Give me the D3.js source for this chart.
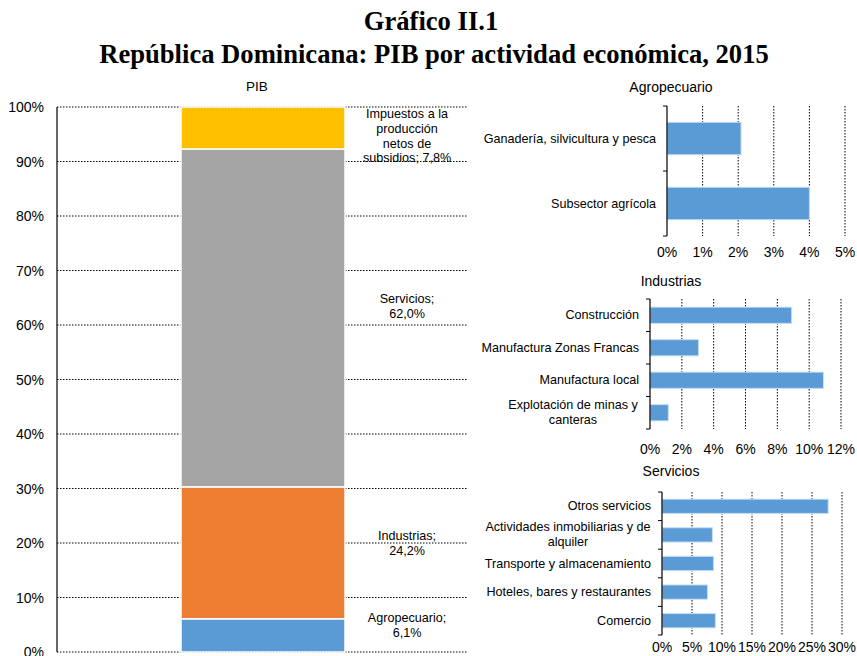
<!DOCTYPE html>
<html>
<head>
<meta charset="utf-8">
<script src="https://cdn.jsdelivr.net/npm/d3@7"></script>
<style>
  body { margin: 0; background: #fff; }
  text { font-family: "Liberation Sans", Arial, sans-serif; fill: #000; }
  .ttl { font-family: "Liberation Serif", "Times New Roman", serif; font-weight: bold; }
</style>
</head>
<body>
<script>
// PIB stack (share of GDP, %)
const pibSectors = ['Agropecuario', 'Industrias', 'Servicios', 'Impuestos a la producción netos de subsidios'];
const pibValues = [6.1, 24.2, 62.0, 7.8];
const pibLabels = [['Agropecuario;', '6,1%'], ['Industrias;', '24,2%'], ['Servicios;', '62,0%'],
                   ['Impuestos a la', 'producción', 'netos de', 'subsidios; 7,8%']];
const pibColors = ['#5b9bd5', '#ed7d31', '#a5a5a5', '#ffc000'];
const pibTicks = [0, 10, 20, 30, 40, 50, 60, 70, 80, 90, 100];

// sub-sector panels (top category first)
const agroCats = ['Ganadería, silvicultura y pesca', 'Subsector agrícola'];
const agroValues = [2.08, 4.0];
const agroTicks = [0, 1, 2, 3, 4, 5];

const indCats = ['Construcción', 'Manufactura Zonas Francas', 'Manufactura local', 'Explotación de minas y\ncanteras'];
const indValues = [8.9, 3.05, 10.9, 1.15];
const indTicks = [0, 2, 4, 6, 8, 10, 12];

const servCats = ['Otros servicios', 'Actividades inmobiliarias y de\nalquiler', 'Transporte y almacenamiento', 'Hoteles, bares y restaurantes', 'Comercio'];
const servValues = [27.7, 8.4, 8.6, 7.6, 8.9];
const servTicks = [0, 5, 10, 15, 20, 25, 30];

const W = 857, H = 656;
const svg = d3.select('body').append('svg').attr('width', W).attr('height', H);

// titles
svg.append('text').attr('class', 'ttl').attr('x', 431).attr('y', 30)
  .attr('text-anchor', 'middle').style('font-size', '26.6px').text('Gráfico II.1');
svg.append('text').attr('class', 'ttl').attr('x', 434).attr('y', 63)
  .attr('text-anchor', 'middle').style('font-size', '26.6px')
  .text('República Dominicana: PIB por actividad económica, 2015');

// ---- left: stacked PIB column
const y = d3.scaleLinear().domain([0, 100]).range([652, 107]);
const gL = svg.append('g');

gL.selectAll('line.grid').data(pibTicks).enter().append('line')
  .attr('x1', 57).attr('x2', 467)
  .attr('y1', d => y(d)).attr('y2', d => y(d))
  .attr('stroke', '#000').attr('stroke-width', 1).attr('stroke-dasharray', '1.5,1.5');

gL.selectAll('text.tick').data(pibTicks).enter().append('text')
  .attr('x', 44).attr('y', d => y(d) + 5)
  .attr('text-anchor', 'end').style('font-size', '14px').text(d => d + '%');

let acc = 0;
const stack = pibValues.map((v, i) => {
  const s = { i: i, y0: acc, y1: Math.min(acc + v, 100) };
  acc += v;
  return s;
});

gL.selectAll('rect').data(stack).enter().append('rect')
  .attr('x', 181).attr('width', 164)
  .attr('y', d => y(d.y1)).attr('height', d => y(d.y0) - y(d.y1))
  .attr('fill', d => pibColors[d.i]).attr('stroke', '#fff').attr('stroke-width', 1.5);

gL.append('line').attr('x1', 57).attr('x2', 57).attr('y1', 107).attr('y2', 652)
  .attr('stroke', '#000').attr('stroke-width', 1.2);

svg.append('text').attr('x', 257).attr('y', 91).attr('text-anchor', 'middle')
  .style('font-size', '13.5px').text('PIB');

// segment labels
const labelY = [622, 540, 303, 118];
pibLabels.forEach((lines, i) => {
  const t = gL.append('text').attr('x', 407).attr('text-anchor', 'middle').style('font-size', '12.6px');
  lines.forEach((ln, j) => {
    t.append('tspan').attr('x', 407).attr('y', labelY[i] + j * 14.8).text(ln);
  });
});

// ---- right panels
function panel(opts) {
  const g = svg.append('g');
  const x = d3.scaleLinear().domain([0, opts.max]).range([opts.x0, opts.x1]);
  const yb = d3.scaleBand().domain(opts.cats).range([opts.y0, opts.y1]).paddingInner(opts.pad).paddingOuter(opts.pad / 2);

  g.append('text').attr('x', 671).attr('y', opts.titleY).attr('text-anchor', 'middle')
    .style('font-size', '14px').text(opts.title);

  g.selectAll('line.grid').data(opts.ticks.slice(1)).enter().append('line')
    .attr('x1', d => x(d)).attr('x2', d => x(d))
    .attr('y1', opts.y0).attr('y2', opts.y1)
    .attr('stroke', '#000').attr('stroke-width', 1).attr('stroke-dasharray', '1.5,1.5');

  g.selectAll('rect').data(opts.values).enter().append('rect')
    .attr('x', x(0)).attr('y', (d, i) => yb(opts.cats[i]))
    .attr('width', d => x(d) - x(0)).attr('height', yb.bandwidth())
    .attr('fill', '#5b9bd5').attr('stroke', '#c9dff2').attr('stroke-width', 1);

  // y axis line + band boundary ticks
  g.append('line').attr('x1', x(0)).attr('x2', x(0)).attr('y1', opts.y0).attr('y2', opts.y1)
    .attr('stroke', '#000').attr('stroke-width', 1.2);
  const step = (opts.y1 - opts.y0) / opts.cats.length;
  g.selectAll('line.tk').data(d3.range(opts.cats.length + 1)).enter().append('line')
    .attr('x1', x(0) - 4).attr('x2', x(0))
    .attr('y1', d => opts.y0 + d * step).attr('y2', d => opts.y0 + d * step)
    .attr('stroke', '#000').attr('stroke-width', 1);

  // category labels
  opts.cats.forEach((c, i) => {
    const lines = c.split('\n');
    const cy = yb(c) + yb.bandwidth() / 2;
    const t = g.append('text').attr('text-anchor', lines.length > 1 ? 'middle' : 'end')
      .style('font-size', '12.6px');
    lines.forEach((ln, j) => {
      t.append('tspan')
        .attr('x', lines.length > 1 ? opts.wrapX : x(0) - 11)
        .attr('y', cy + 4 + (j - (lines.length - 1) / 2) * 15)
        .text(ln);
    });
  });

  // value ticks
  g.selectAll('text.xt').data(opts.ticks).enter().append('text')
    .attr('x', d => x(d)).attr('y', opts.tickY).attr('text-anchor', 'middle')
    .style('font-size', '14px').text(d => d + '%');
}

panel({ title: 'Agropecuario', titleY: 92, cats: agroCats, values: agroValues, ticks: agroTicks, max: 5,
        x0: 667, x1: 845, y0: 106, y1: 236, pad: 0.5, tickY: 257 });
panel({ title: 'Industrias', titleY: 286, cats: indCats, values: indValues, ticks: indTicks, max: 12,
        x0: 650, x1: 841, y0: 299, y1: 429, pad: 0.5, tickY: 454, wrapX: 573 });
panel({ title: 'Servicios', titleY: 476, cats: servCats, values: servValues, ticks: servTicks, max: 30,
        x0: 662, x1: 842, y0: 492, y1: 635, pad: 0.5, tickY: 652, wrapX: 568 });
</script>
</body>
</html>
